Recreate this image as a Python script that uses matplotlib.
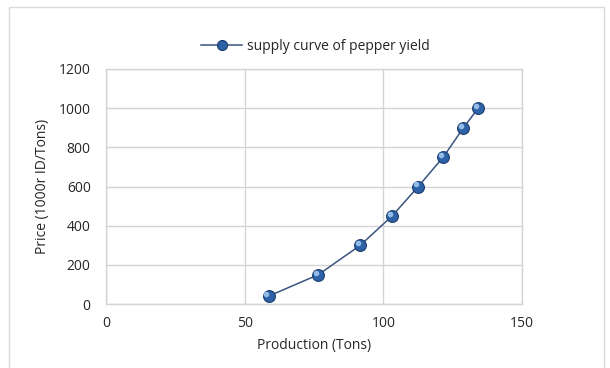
import matplotlib.pyplot as plt
import matplotlib.transforms as mtransforms

# supply curve of pepper yield
production = [58.6, 76.6, 91.7, 103.2, 112.6, 121.6, 128.9, 134.2]
price = [40, 150, 300, 450, 600, 750, 900, 1000]

x_ticks = [0, 50, 100, 150]
y_ticks = [0, 200, 400, 600, 800, 1000, 1200]

plt.rcParams['font.family'] = ['Open Sans', 'DejaVu Sans']

fig = plt.figure(figsize=(6.1, 3.68), dpi=100)
ax = fig.add_axes([106 / 610, 1 - 304 / 368, 416 / 610, 235 / 368])

grid_color = '#d4d4d4'
text_color = '#262626'
ax.plot(production, price, '-', color='#3c5480', lw=1.1,
        marker='o', markersize=8.5, markerfacecolor='#2d62a6',
        markeredgecolor='#1b3c6e', markeredgewidth=0.8,
        label='supply curve of pepper yield', zorder=3)

# small highlight on each marker
shine = mtransforms.offset_copy(ax.transData, fig=fig, x=-1.5, y=1.5, units='points')
ax.plot(production, price, 'o', markersize=3, color='#9cc3ee', alpha=0.9,
        transform=shine, zorder=4)

ax.set_xlim(0, 150)
ax.set_ylim(0, 1200)
ax.set_xticks(x_ticks)
ax.set_yticks(y_ticks)
ax.grid(True, color=grid_color, lw=1)
ax.set_axisbelow(True)
for s in ax.spines.values():
    s.set_color(grid_color)
    s.set_linewidth(1)
ax.tick_params(length=0, labelsize=10, colors=text_color)
ax.tick_params(axis='y', pad=11)
ax.tick_params(axis='x', pad=8.5)

ax.set_xlabel('Production (Tons)', fontsize=10, color=text_color, labelpad=5)
ax.set_ylabel('Price (1000r ID/Tons)', fontsize=10, color=text_color, labelpad=6)

ax.legend(loc='center', bbox_to_anchor=(315 / 610, 1 - 46 / 368),
          bbox_transform=fig.transFigure, frameon=False,
          fontsize=10, handlelength=3.0, handletextpad=0.3,
          markerscale=0.85, labelcolor=text_color)

# outer chart border
fig.patches.append(plt.Rectangle((9 / 610, -5 / 368), 595 / 610, 366 / 368,
                                 transform=fig.transFigure, fill=False,
                                 edgecolor='#d9d9d9', lw=1))

fig.savefig('out.png', dpi=100)
plt.close(fig)
